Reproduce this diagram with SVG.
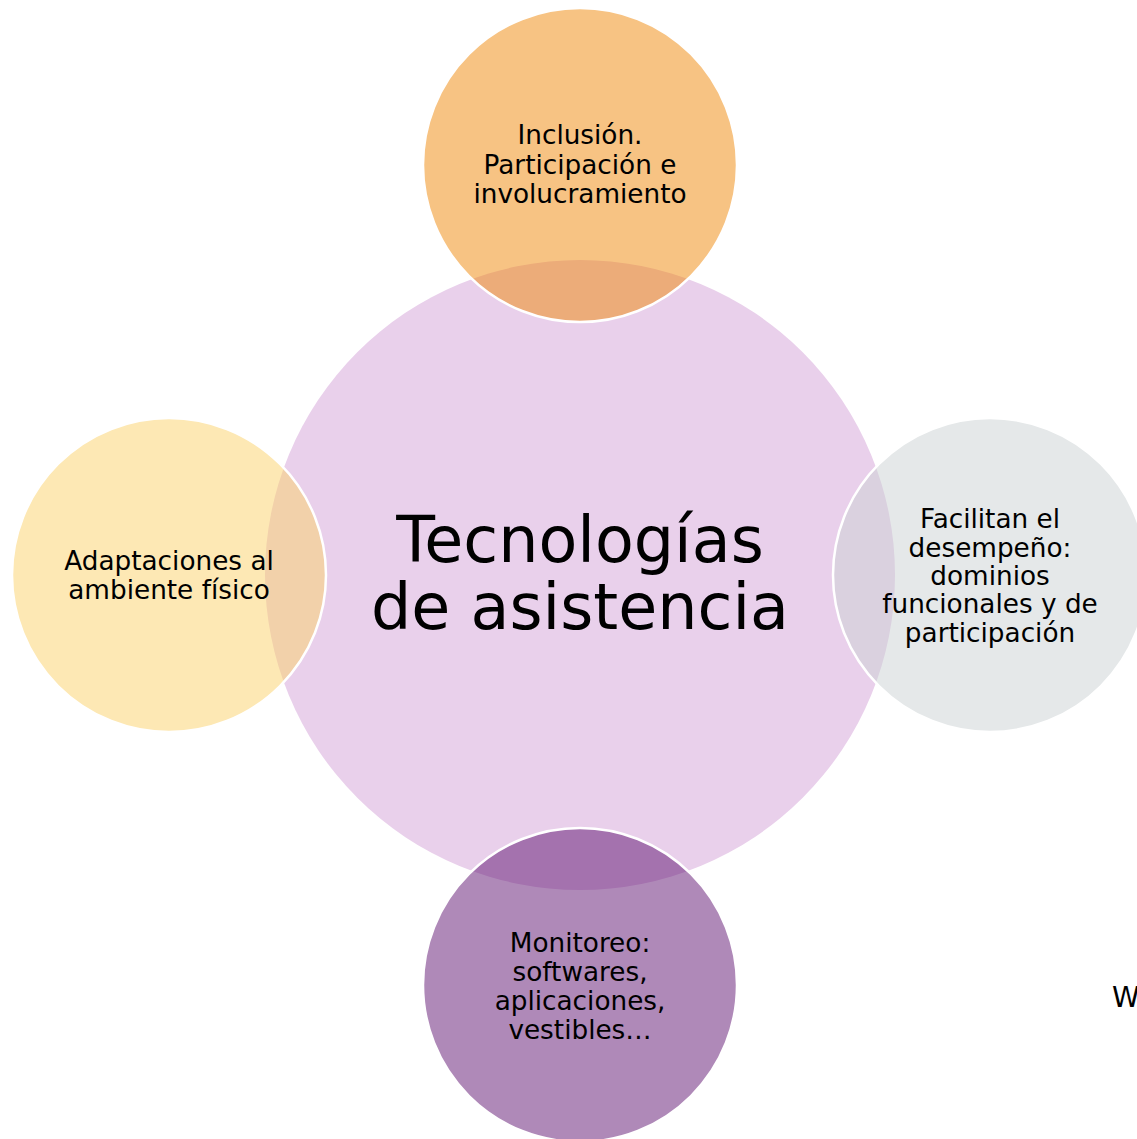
<svg xmlns="http://www.w3.org/2000/svg" width="1137" height="1139" viewBox="0 0 1137 1139">
<style>
.sat{stroke:#ffffff;stroke-width:2.5;fill-opacity:0.5}
.t{font-family:"DejaVu Sans","Verdana",sans-serif;font-size:26.3px;fill:#000;text-anchor:middle}
.big{font-family:"DejaVu Sans","Verdana",sans-serif;font-size:63.5px;fill:#000;text-anchor:middle}
</style>
<rect width="1137" height="1139" fill="#ffffff"/>
<g id="center">
<circle cx="580" cy="575" r="315" fill="#E9D0EB"/>
<text class="big" x="580" y="562">Tecnologías</text>
<text class="big" x="580" y="629">de asistencia</text>
</g>
<g id="top">
<circle class="sat" cx="580" cy="165" r="157" fill="#EF8707"/>
<text class="t" x="580" y="144">Inclusión.</text>
<text class="t" x="580" y="174">Participación e</text>
<text class="t" x="580" y="203">involucramiento</text>
</g>
<g id="left">
<circle class="sat" cx="169" cy="575" r="157" fill="#FBD169"/>
<text class="t" x="169" y="570">Adaptaciones al</text>
<text class="t" x="169" y="599">ambiente físico</text>
</g>
<g id="right">
<circle class="sat" cx="990" cy="575" r="157" fill="#CBD1D3"/>
<text class="t" x="990" y="528">Facilitan el</text>
<text class="t" x="990" y="557">desempeño:</text>
<text class="t" x="990" y="585">dominios</text>
<text class="t" x="990" y="613">funcionales y de</text>
<text class="t" x="990" y="642">participación</text>
</g>
<g id="bottom">
<circle class="sat" cx="580" cy="985" r="157" fill="#5F1371"/>
<text class="t" x="580" y="952">Monitoreo:</text>
<text class="t" x="580" y="981">softwares,</text>
<text class="t" x="580" y="1010">aplicaciones,</text>
<text class="t" x="580" y="1039">vestibles…</text>
</g>
<g id="connectors"></g>
<text x="1112" y="1007" style="font-family:'DejaVu Sans','Verdana',sans-serif;font-size:28px;fill:#000">W</text>
</svg>
